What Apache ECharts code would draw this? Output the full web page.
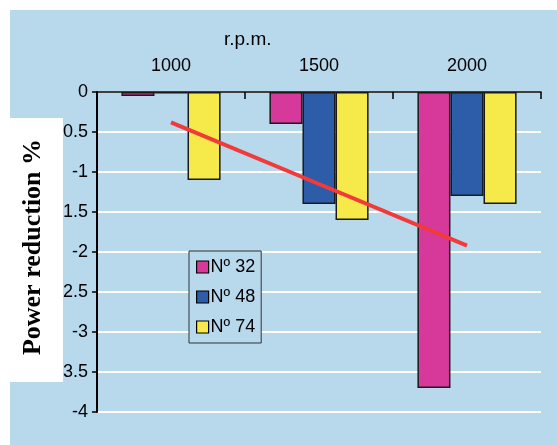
<!DOCTYPE html>
<html>
<head>
<meta charset="utf-8">
<script src="https://cdn.jsdelivr.net/npm/echarts@6/dist/echarts.min.js"></script>
<style>html,body{margin:0;padding:0;background:#fff}#c{width:557px;height:445px}</style>
</head>
<body>
<div id="c"></div>
<script>
const categories = ['1000', '1500', '2000'];
const seriesNames = ['Nº 32', 'Nº 48', 'Nº 74'];
const n32 = [-0.05, -0.4, -3.7];
const n48 = [-0.02, -1.4, -1.3];
const n74 = [-1.1, -1.6, -1.4];
const trend = [-0.38, -1.15, -1.92];
const yTicks = { min: -4, max: 0, interval: 0.5 };

const colors = ['#d6399a', '#2d5ca9', '#f6ea4b'];
const chart = echarts.init(document.getElementById('c'));
const font = 'Liberation Sans, Arial, sans-serif';
const barStyle = (c) => ({ color: c, borderColor: '#1a1a1a', borderWidth: 1.5 });

chart.setOption({
  animation: false,
  graphic: [
    { type: 'rect', z: -10, shape: { x: 10, y: 10, width: 547, height: 435 }, style: { fill: '#b8d8ec' } },
    { type: 'rect', z: 100, zlevel: 1, shape: { x: 10, y: 118, width: 53, height: 264 }, style: { fill: '#ffffff' } },
    { type: 'text', z: 101, zlevel: 1, x: 33, y: 247, rotation: Math.PI / 2,
      style: { text: 'Power reduction %', font: 'bold 26px "Liberation Serif", "Times New Roman", serif', fill: '#000', align: 'center', verticalAlign: 'middle' } }
  ],
  title: {
    text: 'r.p.m.', left: 219, top: 25,
    textStyle: { fontFamily: font, fontSize: 19, fontWeight: 'normal', color: '#000' }
  },
  legend: {
    data: seriesNames,
    orient: 'vertical',
    left: 189, top: 251,
    padding: [7, 6, 7, 7],
    itemGap: 12,
    itemWidth: 12, itemHeight: 12,
    icon: 'rect',
    borderColor: '#333', borderWidth: 1,
    backgroundColor: '#b8d8ec',
    textStyle: { fontFamily: font, fontSize: 18, color: '#000', padding: [0, 0, 0, -3] },
    itemStyle: { borderColor: '#000', borderWidth: 1.2 }
  },
  grid: { left: 97, right: 16, top: 92, bottom: 33 },
  xAxis: {
    type: 'category',
    position: 'top',
    data: categories,
    axisLine: { lineStyle: { color: '#000', width: 1.5 } },
    axisTick: { show: true, inside: true, length: 7, lineStyle: { color: '#000', width: 1.5 } },
    axisLabel: { fontFamily: font, fontSize: 18, color: '#000', margin: 17 },
    splitLine: { show: false }
  },
  yAxis: {
    type: 'value',
    min: yTicks.min, max: yTicks.max, interval: yTicks.interval,
    axisLine: { show: true, lineStyle: { color: '#000', width: 2 } },
    axisTick: { show: true, length: 5, lineStyle: { color: '#000', width: 1.5 } },
    axisLabel: { fontFamily: font, fontSize: 18, color: '#000', margin: 9 },
    splitLine: { lineStyle: { color: '#ffffff', width: 2 } }
  },
  series: [
    { name: seriesNames[0], type: 'bar', data: n32, itemStyle: barStyle(colors[0]), barGap: '0%', barCategoryGap: '33%' },
    { name: seriesNames[1], type: 'bar', data: n48, itemStyle: barStyle(colors[1]), barGap: '0%', barCategoryGap: '33%' },
    { name: seriesNames[2], type: 'bar', data: n74, itemStyle: barStyle(colors[2]), barGap: '0%', barCategoryGap: '33%' },
    { name: 'trend', type: 'line', data: trend, symbol: 'none', z: 5,
      lineStyle: { color: '#f23a3a', width: 4 } }
  ]
});
</script>
</body>
</html>
